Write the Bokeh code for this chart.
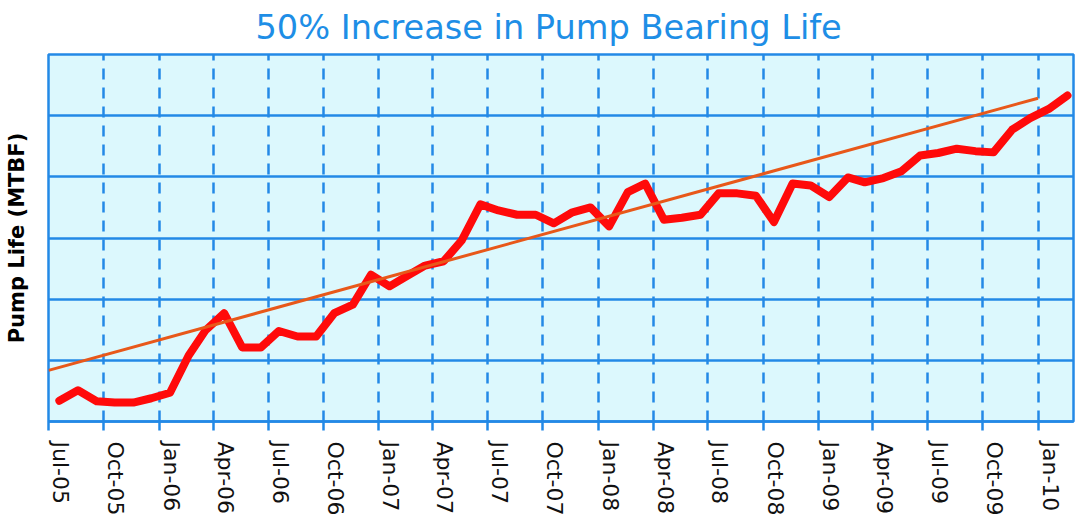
import pandas as pd
from bokeh.plotting import figure
from bokeh.models import FixedTicker, Range1d
from bokeh.embed import file_html
from bokeh.resources import INLINE

# ---------------- data ----------------
month_starts = pd.date_range("2005-07-01", periods=56, freq="MS")
point_dates = month_starts + pd.Timedelta(days=18)

mtbf = [3.4, 5.1, 3.3, 3.1, 3.1, 3.8, 4.7, 10.8, 14.9, 17.7,
        12.1, 12.1, 14.8, 13.9, 13.9, 17.7, 19.1, 24.0, 22.1, 23.9,
        25.5, 26.2, 29.6, 35.5, 34.5, 33.8, 33.8, 32.4, 34.2, 35.0,
        31.9, 37.5, 38.9, 33.0, 33.3, 33.8, 37.3, 37.3, 36.9, 32.6,
        38.9, 38.6, 36.7, 39.9, 39.1, 39.8, 40.9, 43.5, 43.9, 44.6,
        44.2, 44.0, 47.7, 49.6, 51.1, 53.3]

trend_dates = [pd.Timestamp("2005-07-01"), pd.Timestamp("2010-01-01")]
trend_values = [8.35, 52.85]

tick_labels = ["Jul-05", "Oct-05", "Jan-06", "Apr-06", "Jul-06", "Oct-06",
               "Jan-07", "Apr-07", "Jul-07", "Oct-07", "Jan-08", "Apr-08",
               "Jul-08", "Oct-08", "Jan-09", "Apr-09", "Jul-09", "Oct-09",
               "Jan-10"]
quarter_starts = pd.date_range("2005-07-01", periods=len(tick_labels), freq="3MS")
label_dates = quarter_starts + pd.Timedelta(days=20)

y_ticks = [0, 10, 20, 30, 40, 50, 60]

title_text = "50% Increase in Pump Bearing Life"
y_label = "Pump Life (MTBF)"

# ---------------- styling ----------------
BLUE = "#2389E6"
BG = "#DCF8FD"
FONT = "DejaVu Sans"


def ms(ts):
    return int(pd.Timestamp(ts).value // 10**6)


x_start = pd.Timestamp("2005-07-01")
x_end = pd.Timestamp("2010-03-01")

p = figure(width=1075, height=521, x_axis_type="datetime",
           output_backend="svg", toolbar_location=None,
           x_range=Range1d(x_start, x_end), y_range=Range1d(0, 60),
           min_border_left=48, min_border_right=2,
           min_border_top=54, min_border_bottom=100,
           background_fill_color=BG, border_fill_color="white")

# title
p.title.text = title_text
p.title.text_font = FONT
p.title.text_font_size = "33.6px"
p.title.text_font_style = "normal"
p.title.text_color = "#1E8EE6"
p.title.align = "left"
p.title.offset = 207
p.title.vertical_align = "top"
p.title.standoff = 12

p.outline_line_color = BLUE
p.outline_line_width = 2.5
p.outline_line_alpha = 1.0

# grids
p.xgrid.ticker = FixedTicker(ticks=[ms(d) for d in quarter_starts])
p.xgrid.grid_line_color = BLUE
p.xgrid.grid_line_width = 2.5
p.xgrid.grid_line_dash = "11 8"
p.xgrid.grid_line_alpha = 1.0
p.ygrid.ticker = FixedTicker(ticks=y_ticks[1:-1])
p.ygrid.grid_line_color = BLUE
p.ygrid.grid_line_width = 2.5
p.ygrid.grid_line_alpha = 1.0

# x axis
xa = p.xaxis[0]
xa.ticker = FixedTicker(ticks=[ms(d) for d in label_dates],
                        minor_ticks=[ms(d) for d in quarter_starts])
xa.major_label_overrides = {ms(d): lab for d, lab in zip(label_dates, tick_labels)}
xa.major_label_orientation = "vertical"
xa.major_tick_line_color = None
xa.major_tick_out = 0
xa.major_tick_in = 0
xa.minor_tick_out = 9
xa.minor_tick_in = 0
xa.minor_tick_line_color = BLUE
xa.minor_tick_line_width = 2.5
xa.axis_line_color = BLUE
xa.axis_line_width = 2.5
xa.major_label_standoff = 11
xa.major_label_text_font = FONT
xa.major_label_text_font_size = "22px"
xa.major_label_text_color = "#111111"

# y axis
ya = p.yaxis[0]
ya.ticker = FixedTicker(ticks=y_ticks)
ya.major_label_overrides = {v: "" for v in y_ticks}
ya.major_tick_line_color = None
ya.minor_tick_line_color = None
ya.major_tick_out = 0
ya.major_label_standoff = 0
ya.axis_line_color = None
ya.axis_label = y_label
ya.axis_label_text_font = FONT
ya.axis_label_text_font_style = "bold"
ya.axis_label_text_font_size = "21px"
ya.axis_label_text_color = "#000000"
ya.axis_label_standoff = 20

# series
p.line(point_dates, mtbf, line_width=8, color="#FF0A0A",
       line_join="round", line_cap="round")
p.line(trend_dates, trend_values, line_width=3, color="#E8581A")

open("out.html", "w").write(file_html(p, INLINE))
